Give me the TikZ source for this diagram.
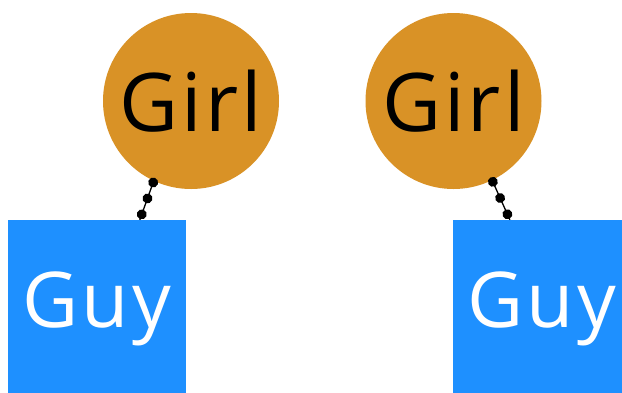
\documentclass[tikz,border=0pt]{standalone}
\usepackage{fontspec}
\setmainfont{Open Sans}[LetterSpace=4]
\usetikzlibrary{calc,decorations.markings}
\definecolor{girlorange}{RGB}{217,146,38}
\definecolor{guyblue}{RGB}{30,144,255}
\tikzset{
  girlnode/.style={circle, fill=girlorange, draw=none, minimum size=176pt, inner sep=0pt,
    font=\fontsize{81}{81}\selectfont, text=black},
  guynode/.style={rectangle, fill=guyblue, draw=none, minimum size=178pt, inner sep=0pt,
    font=\fontsize{77}{77}\selectfont, text=white},
  dotlink/.style={draw=black, line width=1.3pt,
    decoration={markings,
      mark=at position 0.04 with {\fill[black] (0,0) circle (5pt);},
      mark=at position 0.45 with {\fill[black] (0,0) circle (5pt);},
      mark=at position 0.86 with {\fill[black] (0,0) circle (5pt);}},
    postaction={decorate}}
}
\begin{document}
\begin{tikzpicture}[x=1pt,y=-1pt]
\useasboundingbox (0,0) rectangle (622,392);
\clip (0,0) rectangle (622,392);
\fill[white] (0,0) rectangle (622,392);
\node[guynode] (b1) at (97,309) {Guy};
\node[guynode] (b2) at (542,309) {Guy};
\node[girlnode] (g1) at (191,101) {Girl};
\node[girlnode] (g2) at (453.5,101) {Girl};
\coordinate (e1) at ($(b1.north west)!0.74!(b1.north east)$);
\coordinate (e2) at ($(b2.north west)!0.32!(b2.north east)$);
\path[dotlink] (g1.-115) -- (e1);
\path[dotlink] (g2.-64) -- (e2);
\end{tikzpicture}
\end{document}
